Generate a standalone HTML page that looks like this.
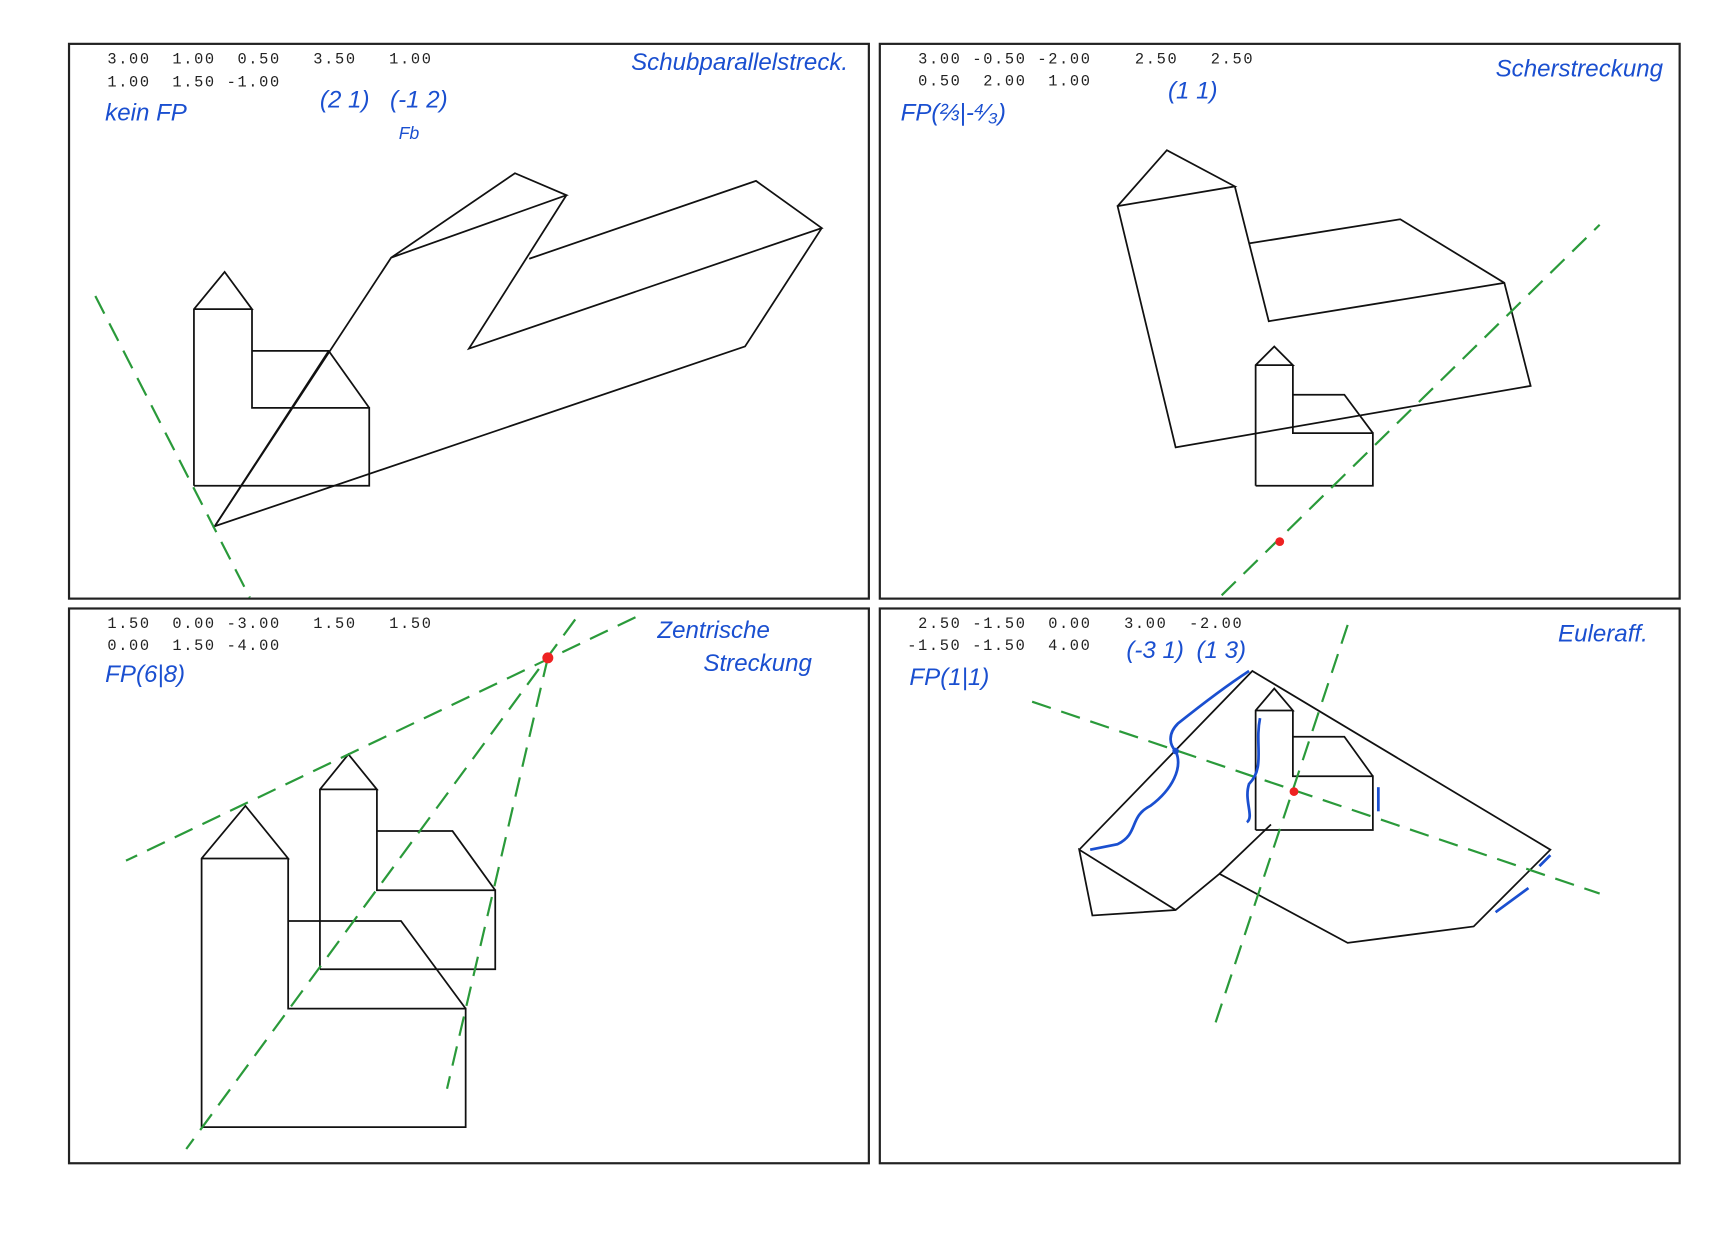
<!DOCTYPE html>
<html><head><meta charset="utf-8"><style>
html,body{margin:0;padding:0;background:#fff;}
svg{display:block;}
.m{font-family:"Liberation Mono",monospace;font-size:14px;letter-spacing:1.5px;fill:#222;white-space:pre;}
.h{font-family:"Liberation Sans",sans-serif;font-style:italic;fill:#1a4fd0;font-size:22px;}
.k{stroke:#111;stroke-width:1.6;fill:none;}
.g{stroke:#2a9a3a;stroke-width:2;stroke-dasharray:18 10;fill:none;}
.b{stroke:#1a4fd0;stroke-width:2.5;fill:none;}
</style></head><body>
<svg width="1718" height="1240" viewBox="0 0 1568 1131" preserveAspectRatio="none" xml:space="preserve">
<rect width="1568" height="1131" fill="#fff"/>
<g stroke="#222" stroke-width="2" fill="none">
<rect x="63" y="40" width="730" height="506"/>
<rect x="803" y="40" width="730" height="506"/>
<rect x="63" y="555" width="730" height="506"/>
<rect x="803" y="555" width="730" height="506"/>
</g>
<!-- TL -->
<text class="m" x="98" y="58">3.00  1.00  0.50   3.50   1.00</text>
<text class="m" x="98" y="79">1.00  1.50 -1.00</text>
<text class="h" x="96" y="110">kein FP</text>
<text class="h" x="292" y="98">(2 1)</text>
<text class="h" x="356" y="98">(-1 2)</text>
<text class="h" x="364" y="127" style="font-size:16px">Fb</text>
<text class="h" x="576" y="64">Schubparallelstreck.</text>
<g class="k">
<polyline points="177,443 177,282 205,248 230,282 177,282"/>
<polyline points="230,282 230,372 337,372 337,443 177,443"/>
<polyline points="230,320 300,320 337,372"/>
<polyline points="196,480 357,235 470,158 517,178 357,235"/>
<polyline points="517,178 428,318 750,208 690,165 483,236"/>
<polyline points="750,208 680,316 196,480 300,320"/>
</g>
<line class="g" x1="87" y1="270" x2="228" y2="545"/>
<!-- TR -->
<text class="m" x="838" y="58">3.00 -0.50 -2.00    2.50   2.50</text>
<text class="m" x="838" y="78">0.50  2.00  1.00</text>
<text class="h" x="822" y="110">FP(⅔|-⁴⁄₃)</text>
<text class="h" x="1066" y="90">(1 1)</text>
<text class="h" x="1365" y="70">Scherstreckung</text>
<g class="k">
<polyline points="1020,188 1065,137 1127,170 1020,188 1073,408 1397,352 1373,258 1278,200 1140,222"/>
<polyline points="1127,170 1158,293 1373,258"/>
<polyline points="1146,443 1146,333 1163,316 1180,333 1146,333"/>
<polyline points="1180,333 1180,395 1253,395 1253,443 1146,443"/>
<polyline points="1180,360 1227,360 1253,395"/>
</g>
<line class="g" x1="1115" y1="543" x2="1460" y2="205"/>
<circle cx="1168" cy="494" r="4" fill="#e22"/>
<!-- BL -->
<text class="m" x="98" y="573">1.50  0.00 -3.00   1.50   1.50</text>
<text class="m" x="98" y="593">0.00  1.50 -4.00</text>
<text class="h" x="96" y="622">FP(6|8)</text>
<text class="h" x="600" y="582">Zentrische</text>
<text class="h" x="642" y="612">Streckung</text>
<g class="k">
<polyline points="184,1028 184,783 224,735 263,783 184,783"/>
<polyline points="263,783 263,920 425,920 425,1028 184,1028"/>
<polyline points="263,840 366,840 425,920"/>
<polyline points="292,884 292,720 318,688 344,720 292,720"/>
<polyline points="344,720 344,812 452,812 452,884 292,884"/>
<polyline points="344,758 413,758 452,812"/>
</g>
<g class="g">
<line x1="580" y1="563" x2="115" y2="785"/>
<line x1="525" y1="565" x2="170" y2="1048"/>
<line x1="500" y1="600" x2="408" y2="993"/>
</g>
<circle cx="500" cy="600" r="5" fill="#e22"/>
<!-- BR -->
<text class="m" x="838" y="573">2.50 -1.50  0.00   3.00  -2.00</text>
<text class="m" x="828" y="593">-1.50 -1.50  4.00</text>
<text class="h" x="830" y="625">FP(1|1)</text>
<text class="h" x="1028" y="600">(-3 1)</text>
<text class="h" x="1092" y="600">(1 3)</text>
<text class="h" x="1422" y="585">Euleraff.</text>
<g class="k">
<polyline points="985,775 1143,612 1415,775 1345,845 1230,860 1113,797 1073,830 997,835 985,775 1073,830"/>
<line x1="1113" y1="797" x2="1160" y2="752"/>
<polyline points="1146,757 1146,648 1163,628 1180,648 1146,648"/>
<polyline points="1180,648 1180,708 1253,708 1253,757 1146,757"/>
<polyline points="1180,672 1227,672 1253,708"/>
</g>
<g class="g">
<line x1="942" y1="640" x2="1460" y2="815"/>
<line x1="1230" y1="570" x2="1107" y2="940"/>
</g>
<g class="b">
<path d="M1140,612 C1120,625 1100,640 1075,660 C1065,670 1068,680 1073,685 C1080,700 1070,720 1050,735 C1030,745 1040,760 1020,770 L995,775"/>
<path d="M1150,655 C1145,680 1155,700 1140,715 C1135,730 1145,745 1138,750"/>
<path d="M1258,718 L1258,740"/>
<path d="M1365,832 L1395,810 M1405,790 L1415,780"/>
</g>
<circle cx="1181" cy="722" r="4" fill="#e22"/>
<circle cx="1073" cy="685" r="3" fill="#1a4fd0"/>
</svg>
</body></html>
